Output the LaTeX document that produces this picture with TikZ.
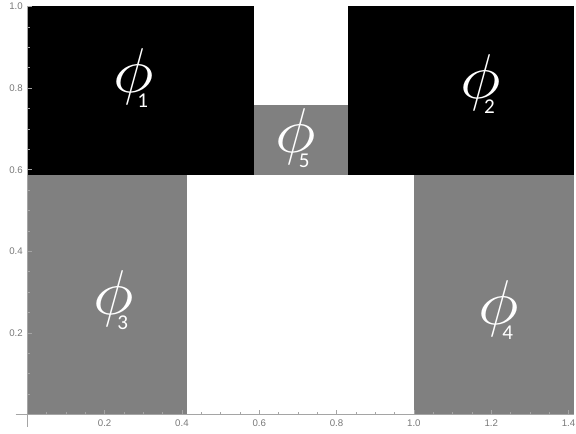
\documentclass[tikz,border=0pt]{standalone}
\usepackage{fix-cm}
\usepackage{fontspec}
\setsansfont{Carlito}
\newfontfamily\tickfont{Liberation Sans}
\usepackage{tikz}
\definecolor{blockgray}{RGB}{128,128,128}
\definecolor{axisgray}{RGB}{165,165,165}
\definecolor{tickgray}{RGB}{120,120,120}
\newcommand{\phlab}[1]{\scalebox{1.1}[1]{$\phi$}\kern-9.4pt\raisebox{-8.4pt}{\fontsize{12}{12}\selectfont\sffamily #1}}

\begin{document}
\begin{tikzpicture}[x=7.732cm, y=8.16cm,
  phlabel/.style={text=white, inner sep=0pt, anchor=base west, font=\fontsize{36}{36}\selectfont},
  ticklabel/.style={text=tickgray, inner sep=0pt, font=\tickfont\fontsize{5.5}{6}\selectfont}]
  \useasboundingbox (-0.0706,-0.0478) rectangle (1.4193,1.0159);

  % Black blocks (top)
  \fill[black] (0,0.5858) rectangle (0.5858,1);
  \fill[black] (0.8284,0.5858) rectangle (1.4142,1);
  % Gray blocks
  \fill[blockgray] (0.5858,0.5858) rectangle (0.8284,0.7574);
  \fill[blockgray] (0,0) rectangle (0.4142,0.5858);
  \fill[blockgray] (1,0) rectangle (1.4142,0.5858);

  % Axes
  \coordinate (xstart) at (-0.03,0);
  \coordinate (xend) at (1.4142,0);
  \coordinate (ystart) at (0,-0.03);
  \coordinate (yend) at (0,1);
  \draw[axisgray, line width=0.5pt] (xstart) -- (xend);
  \draw[axisgray, line width=0.5pt] (ystart) -- (yend);
  \foreach \t in {0.05,0.1,...,1.401}
    \draw[axisgray, line width=0.3pt] (\t,0) -- (\t,0.006);
  \foreach \t in {0.05,0.1,...,0.951}
    \draw[axisgray, line width=0.3pt] (0,\t) -- (0.006,\t);
  \foreach \t in {0.2,0.4,...,1.401}
    \draw[axisgray, line width=0.4pt] (\t,0) -- (\t,0.011);
  \foreach \t in {0.2,0.4,...,1.01}
    \draw[axisgray, line width=0.4pt] (0,\t) -- (0.011,\t);

  % Tick labels
  \foreach \t [count=\i] in {0.2,0.4,0.6,0.8,1.0,1.2,1.4}
    \node[ticklabel] (xt\i) at (\t,-0.0216) {\t};
  \foreach \t [count=\i] in {0.2,0.4,0.6,0.8,1.0}
    \node[ticklabel, anchor=east] (yt\i) at (-0.011,\t) {\t};

  % Labels
  \node[phlabel] (p1) at (0.2225,0.7887) {\phlab{1}};
  \node[phlabel] (p2) at (1.1193,0.7748) {\phlab{2}};
  \node[phlabel] (p3) at (0.1707,0.2439) {\phlab{3}};
  \node[phlabel] (p4) at (1.1666,0.2208) {\phlab{4}};
  \node[phlabel] (p5) at (0.6402,0.6417) {\phlab{5}};
\end{tikzpicture}
\end{document}
